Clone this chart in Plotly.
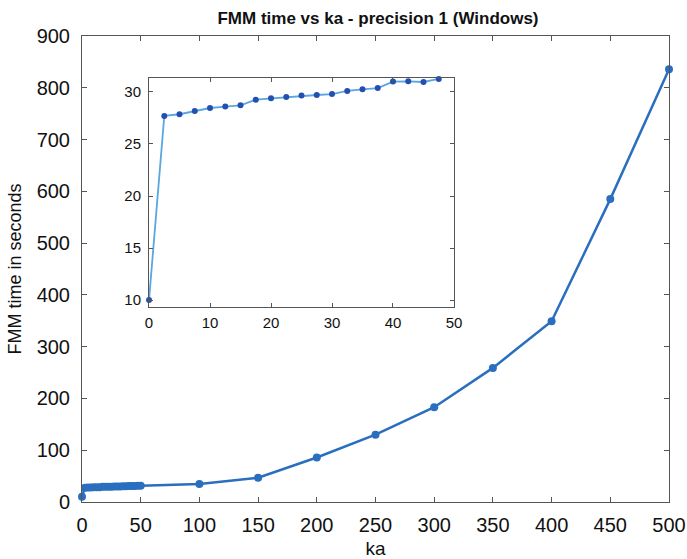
import plotly.graph_objects as go

# Inset data (ka 0..47.5)
ka_small = [0, 2.5, 5, 7.5, 10, 12.5, 15, 17.5, 20, 22.5, 25, 27.5, 30, 32.5, 35, 37.5, 40, 42.5, 45, 47.5]
t_small = [10.0, 27.7, 27.86, 28.18, 28.46, 28.6, 28.72, 29.26, 29.39, 29.52, 29.65, 29.71, 29.8, 30.1, 30.26, 30.38, 31.0, 31.02, 30.96, 31.25]

# Main data beyond the inset range
ka_large = [50, 100, 150, 200, 250, 300, 350, 400, 450, 500]
t_large = [31.5, 35, 47, 86, 130, 183, 259, 349, 585, 836]

main_x = ka_small + ka_large
main_y = t_small + t_large

x_ticks = [0, 50, 100, 150, 200, 250, 300, 350, 400, 450, 500]
y_ticks = [0, 100, 200, 300, 400, 500, 600, 700, 800, 900]
inset_x_ticks = [0, 10, 20, 30, 40, 50]
inset_y_ticks = [10, 15, 20, 25, 30]

FONT = "Liberation Sans, Arial, sans-serif"
AX = "#555555"
TXT = "#111111"

fig = go.Figure()
fig.add_trace(go.Scatter(
    x=main_x, y=main_y, mode="lines+markers",
    line=dict(color="#2a6ebf", width=2.5),
    marker=dict(color="#2a6ebf", size=8),
    cliponaxis=False, showlegend=False, xaxis="x", yaxis="y"))
fig.add_trace(go.Scatter(
    x=ka_small, y=t_small, mode="lines+markers",
    line=dict(color="#5aa6e0", width=1.8),
    marker=dict(color="#2350b0", size=6),
    cliponaxis=False, showlegend=False, xaxis="x2", yaxis="y2"))

def axis(size, ticklen, standoff):
    return dict(showline=True, linecolor=AX, linewidth=1, mirror="ticks",
                ticks="inside", ticklen=ticklen, tickcolor=AX, showgrid=False,
                zeroline=False, automargin=False, ticklabelstandoff=standoff,
                ticklabeloverflow="allow",
                tickfont=dict(family=FONT, size=size, color=TXT))

fig.update_layout(
    width=687, height=559,
    margin=dict(l=82, r=18, t=36, b=57, autoexpand=False),
    paper_bgcolor="white", plot_bgcolor="white",
    title=dict(text="<b>FMM time vs ka - precision 1 (Windows)</b>",
               x=378/687, xanchor="center", y=1-18/559, yanchor="middle",
               font=dict(family=FONT, size=17, color=TXT)),
    xaxis=dict(range=[0, 500], tickvals=x_ticks, domain=[0, 1],
               title=dict(text="ka", font=dict(family=FONT, size=19, color=TXT), standoff=6),
               **axis(20, 5, 5)),
    yaxis=dict(range=[0, 900], tickvals=y_ticks, domain=[0, 1],
               title=dict(text="FMM time in seconds", font=dict(family=FONT, size=18, color=TXT), standoff=10),
               **axis(20, 5, 7)),
    xaxis2=dict(range=[0, 50], tickvals=inset_x_ticks, domain=[0.1142, 0.6337], anchor="y2",
                **axis(15, 4, 2)),
    yaxis2=dict(range=[9.33, 31.35], tickvals=inset_y_ticks, domain=[0.4185, 0.910], anchor="x2",
                **axis(15, 4, 4)),
)

fig.write_html("out.html", config={"displayModeBar": False},
               post_script="document.body.style.margin='0';")
